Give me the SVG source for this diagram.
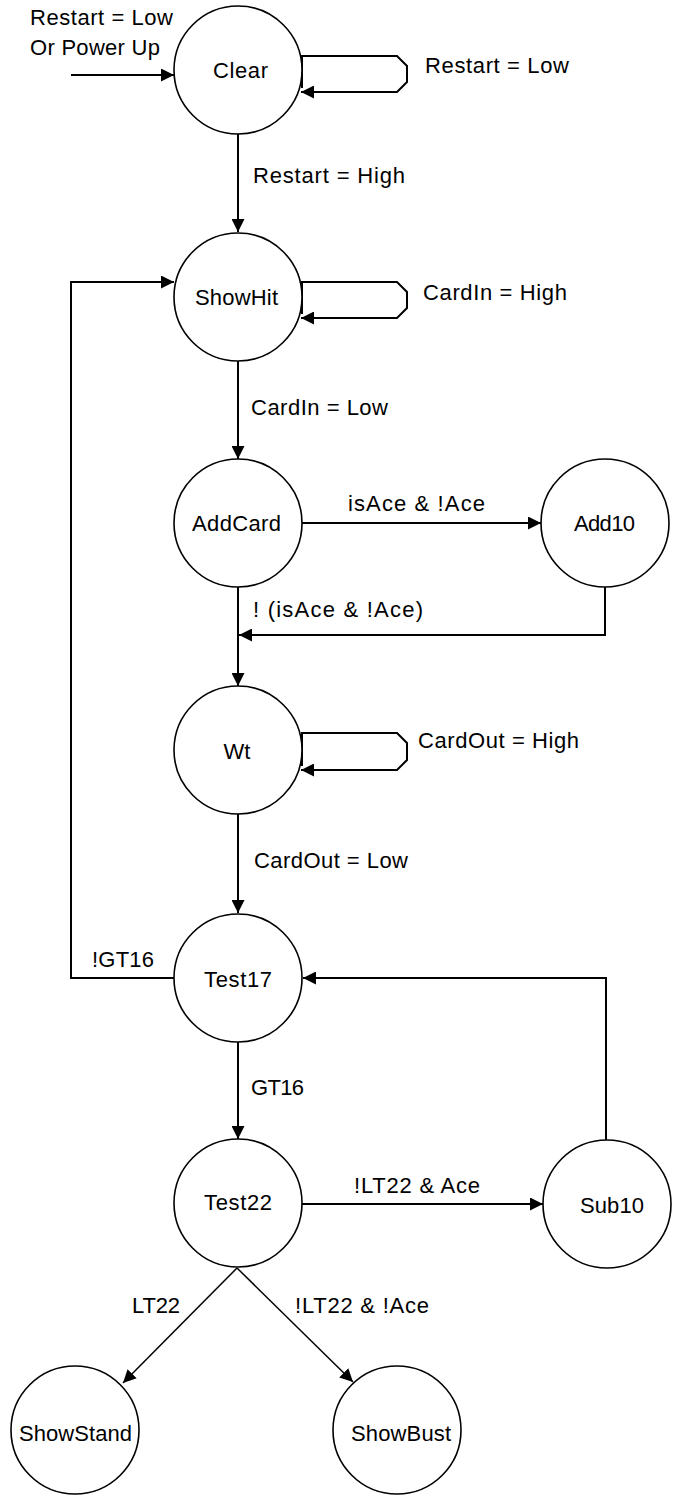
<svg xmlns="http://www.w3.org/2000/svg" width="675" height="1500" viewBox="0 0 675 1500">
<style>
.node circle{fill:#fff;stroke:#000;stroke-width:1.6}
.lbl{font-family:"Liberation Sans",Arial,sans-serif;font-size:22px;fill:#000}
.edge{fill:none;stroke:#000;stroke-width:2}
.thin{fill:none;stroke:#000;stroke-width:1.5}
</style>
<defs>
<marker id="arr" markerUnits="userSpaceOnUse" markerWidth="14" markerHeight="13" refX="13" refY="6.5" orient="auto">
<path d="M0,0 L13,6.5 L0,13 z" fill="#000"/>
</marker>
</defs>
<rect width="675" height="1500" fill="#fff"/>
<g id="connectors">
<path class="edge" d="M71 75 H174" marker-end="url(#arr)"/>
<path class="edge" d="M302 88 V56 H397 L407 66 V82 L397 92 H301" marker-end="url(#arr)"/>
<path class="edge" d="M238 134 V232" marker-end="url(#arr)"/>
<path class="edge" d="M302 314 V282 H397 L407 292 V308 L397 318 H301" marker-end="url(#arr)"/>
<path class="edge" d="M174 978 H71 V282 H174" marker-end="url(#arr)"/>
<path class="edge" d="M238 361 V459" marker-end="url(#arr)"/>
<path class="edge" d="M302 523 H541" marker-end="url(#arr)"/>
<path class="edge" d="M605 587 V635 H239" marker-end="url(#arr)"/>
<path class="edge" d="M238 587 V686" marker-end="url(#arr)"/>
<path class="edge" d="M302 766 V733 H397 L407 743 V760 L397 770 H301" marker-end="url(#arr)"/>
<path class="edge" d="M238 814 V913" marker-end="url(#arr)"/>
<path class="edge" d="M238 1042 V1139" marker-end="url(#arr)"/>
<path class="edge" d="M302 1204 H543" marker-end="url(#arr)"/>
<path class="edge" d="M606 1140 V978 H303" marker-end="url(#arr)"/>
<path class="thin" d="M237 1268 L123 1383" marker-end="url(#arr)"/>
<path class="thin" d="M237 1268 L353 1382" marker-end="url(#arr)"/>
</g>
<g id="edge-labels">
<text class="lbl" x="30" y="25" textLength="143" lengthAdjust="spacing">Restart = Low</text>
<text class="lbl" x="30" y="55" textLength="130" lengthAdjust="spacing">Or Power Up</text>
<text class="lbl" x="425" y="73" textLength="144" lengthAdjust="spacing">Restart = Low</text>
<text class="lbl" x="253" y="183" textLength="152" lengthAdjust="spacing">Restart = High</text>
<text class="lbl" x="423" y="300" textLength="144" lengthAdjust="spacing">CardIn = High</text>
<text class="lbl" x="251" y="415" textLength="137" lengthAdjust="spacing">CardIn = Low</text>
<text class="lbl" x="348" y="511" textLength="137" lengthAdjust="spacing">isAce &amp; !Ace</text>
<text class="lbl" x="253" y="617" textLength="170" lengthAdjust="spacing">! (isAce &amp; !Ace)</text>
<text class="lbl" x="418" y="748" textLength="161" lengthAdjust="spacing">CardOut = High</text>
<text class="lbl" x="254" y="868" textLength="154" lengthAdjust="spacing">CardOut = Low</text>
<text class="lbl" x="92" y="967" textLength="62" lengthAdjust="spacing">!GT16</text>
<text class="lbl" x="251" y="1095" textLength="53" lengthAdjust="spacing">GT16</text>
<text class="lbl" x="354" y="1193" textLength="126" lengthAdjust="spacing">!LT22 &amp; Ace</text>
<text class="lbl" x="132" y="1313" textLength="48" lengthAdjust="spacing">LT22</text>
<text class="lbl" x="295" y="1313" textLength="134" lengthAdjust="spacing">!LT22 &amp; !Ace</text>
</g>
<g id="Clear" class="node"><circle cx="238" cy="70" r="64"/><text class="lbl" x="213" y="78" textLength="55" lengthAdjust="spacing">Clear</text></g>
<g id="ShowHit" class="node"><circle cx="238" cy="297" r="64"/><text class="lbl" x="195" y="305" textLength="83" lengthAdjust="spacing">ShowHit</text></g>
<g id="AddCard" class="node"><circle cx="238" cy="523" r="64"/><text class="lbl" x="192" y="531" textLength="89" lengthAdjust="spacing">AddCard</text></g>
<g id="Add10" class="node"><circle cx="605" cy="523" r="64"/><text class="lbl" x="574" y="531" textLength="61" lengthAdjust="spacing">Add10</text></g>
<g id="Wt" class="node"><circle cx="238" cy="750" r="64"/><text class="lbl" x="237" y="759" text-anchor="middle">Wt</text></g>
<g id="Test17" class="node"><circle cx="238" cy="978" r="64"/><text class="lbl" x="204" y="987" textLength="68" lengthAdjust="spacing">Test17</text></g>
<g id="Test22" class="node"><circle cx="238" cy="1203" r="64"/><text class="lbl" x="204" y="1210" textLength="68" lengthAdjust="spacing">Test22</text></g>
<g id="Sub10" class="node"><circle cx="607" cy="1204" r="64"/><text class="lbl" x="580" y="1213" textLength="64" lengthAdjust="spacing">Sub10</text></g>
<g id="ShowStand" class="node"><circle cx="75" cy="1430" r="64"/><text class="lbl" x="19" y="1441" textLength="113" lengthAdjust="spacing">ShowStand</text></g>
<g id="ShowBust" class="node"><circle cx="397" cy="1430" r="64"/><text class="lbl" x="351" y="1441" textLength="100" lengthAdjust="spacing">ShowBust</text></g>
</svg>
